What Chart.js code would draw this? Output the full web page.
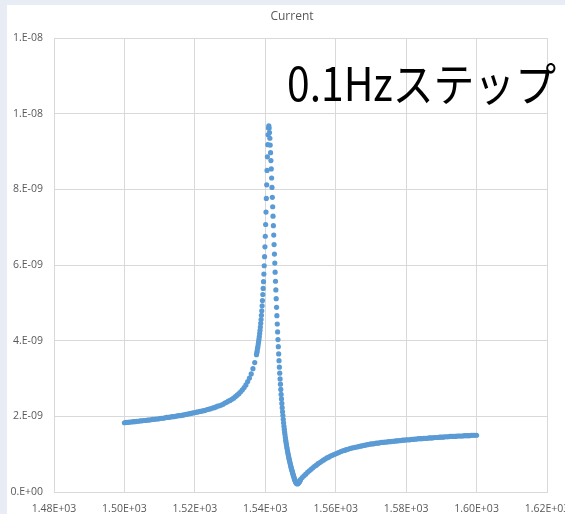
<!DOCTYPE html>
<html lang="ja">
<head>
<meta charset="utf-8">
<title>Current</title>
<script src="https://cdn.jsdelivr.net/npm/chart.js@4.4.1/dist/chart.umd.min.js"></script>
<style>
  html, body { margin: 0; padding: 0; overflow: hidden; background: #e8ecf5; }
  #wrap { position: relative; width: 600px; height: 514px; }
</style>
</head>
<body>
<div id="wrap"><canvas id="currentChart"></canvas></div>
<script>
// frequency sweep, Hz (coarse below the resonance, 0.1 Hz around it, coarse above)
const freqLow = [
  1500, 1500.5, 1501, 1501.5, 1502, 1502.5, 1503, 1503.5, 1504, 1504.5,
  1505, 1505.5, 1506, 1506.5, 1507, 1507.5, 1508, 1508.5, 1509, 1509.5,
  1510, 1510.5, 1511, 1511.5, 1512, 1512.5, 1513, 1513.5, 1514, 1514.5,
  1515, 1515.5, 1516, 1516.5, 1517, 1517.5, 1518, 1518.5, 1519, 1519.5,
  1520, 1520.5, 1521, 1521.5, 1522, 1522.5, 1523, 1523.5, 1524, 1524.5,
  1525, 1525.5, 1526, 1526.5, 1527, 1527.5, 1528, 1528.5, 1529, 1529.5,
  1530, 1530.5, 1531, 1531.5, 1532, 1532.5, 1533, 1533.5, 1534, 1534.5,
  1535, 1535.5, 1536, 1536.5, 1537, 1537.5
];
// current, nA
const currentLow = [
  1.83, 1.84, 1.84, 1.85, 1.85, 1.86, 1.86, 1.87, 1.87, 1.88,
  1.88, 1.89, 1.89, 1.90, 1.90, 1.91, 1.92, 1.92, 1.93, 1.93,
  1.94, 1.95, 1.95, 1.96, 1.97, 1.97, 1.98, 1.99, 1.99, 2.00,
  2.01, 2.02, 2.02, 2.03, 2.04, 2.05, 2.06, 2.07, 2.08, 2.09,
  2.10, 2.11, 2.12, 2.13, 2.14, 2.15, 2.16, 2.18, 2.19, 2.20,
  2.22, 2.23, 2.25, 2.27, 2.28, 2.30, 2.32, 2.35, 2.37, 2.40,
  2.42, 2.45, 2.48, 2.52, 2.56, 2.60, 2.65, 2.70, 2.76, 2.83,
  2.92, 3.01, 3.12, 3.26, 3.42, 3.63
];

const freqPeak = [
  1537.6, 1537.7, 1537.8, 1537.9,
  1538.0, 1538.1, 1538.2, 1538.3, 1538.4, 1538.5, 1538.6, 1538.7, 1538.8, 1538.9,
  1539.0, 1539.1, 1539.2, 1539.3, 1539.4, 1539.5, 1539.6, 1539.7, 1539.8, 1539.9,
  1540.0, 1540.1, 1540.2, 1540.3, 1540.4, 1540.5, 1540.6, 1540.7, 1540.8, 1540.9,
  1541.0, 1541.1, 1541.2, 1541.3, 1541.4, 1541.5, 1541.6, 1541.7, 1541.8, 1541.9,
  1542.0, 1542.1, 1542.2, 1542.3, 1542.4, 1542.5, 1542.6, 1542.7, 1542.8, 1542.9,
  1543.0, 1543.1, 1543.2, 1543.3, 1543.4, 1543.5, 1543.6, 1543.7, 1543.8, 1543.9,
  1544.0, 1544.1, 1544.2, 1544.3, 1544.4, 1544.5, 1544.6, 1544.7, 1544.8, 1544.9,
  1545.0, 1545.1, 1545.2, 1545.3, 1545.4, 1545.5, 1545.6, 1545.7, 1545.8, 1545.9,
  1546.0, 1546.1, 1546.2, 1546.3, 1546.4, 1546.5, 1546.6, 1546.7, 1546.8, 1546.9,
  1547.0, 1547.1, 1547.2, 1547.3, 1547.4, 1547.5, 1547.6, 1547.7, 1547.8, 1547.9,
  1548.0, 1548.1, 1548.2, 1548.3, 1548.4, 1548.5, 1548.6, 1548.7, 1548.8, 1548.9,
  1549.0, 1549.1, 1549.2, 1549.3, 1549.4, 1549.5, 1549.6, 1549.7, 1549.8, 1549.9,
  1550.0
];
const currentPeak = [
  3.68, 3.73, 3.79, 3.84,
  3.91, 3.97, 4.04, 4.11, 4.19, 4.27, 4.36, 4.46, 4.56, 4.67,
  4.79, 4.92, 5.06, 5.22, 5.38, 5.56, 5.76, 5.98, 6.22, 6.48,
  6.76, 7.07, 7.40, 7.76, 8.12, 8.50, 8.86, 9.18, 9.44, 9.62,
  9.68, 9.62, 9.50, 9.35, 9.17, 8.97, 8.76, 8.54, 8.30, 8.05,
  7.79, 7.54, 7.29, 7.04, 6.79, 6.54, 6.29, 6.05, 5.81, 5.57,
  5.34, 5.11, 4.88, 4.66, 4.44, 4.23, 4.03, 3.84, 3.65, 3.47,
  3.30, 3.14, 2.99, 2.85, 2.71, 2.58, 2.46, 2.34, 2.23, 2.12,
  2.02, 1.92, 1.83, 1.74, 1.66, 1.58, 1.51, 1.44, 1.37, 1.31,
  1.25, 1.19, 1.14, 1.09, 1.04, 0.99, 0.95, 0.90, 0.86, 0.82,
  0.78, 0.74, 0.70, 0.66, 0.63, 0.59, 0.56, 0.53, 0.49, 0.46,
  0.43, 0.40, 0.37, 0.34, 0.32, 0.29, 0.27, 0.25, 0.24, 0.23,
  0.22, 0.22, 0.22, 0.23, 0.24, 0.25, 0.26, 0.28, 0.29, 0.31,
  0.33
];

const freqHigh = [
  1550.5, 1551, 1551.5, 1552, 1552.5, 1553, 1553.5, 1554, 1554.5, 1555,
  1555.5, 1556, 1556.5, 1557, 1557.5, 1558, 1558.5, 1559, 1559.5, 1560,
  1560.5, 1561, 1561.5, 1562, 1562.5, 1563, 1563.5, 1564, 1564.5, 1565,
  1565.5, 1566, 1566.5, 1567, 1567.5, 1568, 1568.5, 1569, 1569.5, 1570,
  1570.5, 1571, 1571.5, 1572, 1572.5, 1573, 1573.5, 1574, 1574.5, 1575,
  1575.5, 1576, 1576.5, 1577, 1577.5, 1578, 1578.5, 1579, 1579.5, 1580,
  1580.5, 1581, 1581.5, 1582, 1582.5, 1583, 1583.5, 1584, 1584.5, 1585,
  1585.5, 1586, 1586.5, 1587, 1587.5, 1588, 1588.5, 1589, 1589.5, 1590,
  1590.5, 1591, 1591.5, 1592, 1592.5, 1593, 1593.5, 1594, 1594.5, 1595,
  1595.5, 1596, 1596.5, 1597, 1597.5, 1598, 1598.5, 1599, 1599.5, 1600
];
const currentHigh = [
  0.38, 0.43, 0.47, 0.52, 0.56, 0.60, 0.64, 0.68, 0.71, 0.75,
  0.78, 0.81, 0.84, 0.87, 0.90, 0.92, 0.95, 0.97, 0.99, 1.01,
  1.03, 1.05, 1.07, 1.09, 1.10, 1.12, 1.13, 1.15, 1.16, 1.17,
  1.18, 1.19, 1.20, 1.21, 1.22, 1.23, 1.24, 1.25, 1.26, 1.27,
  1.27, 1.28, 1.29, 1.29, 1.30, 1.31, 1.31, 1.32, 1.32, 1.33,
  1.33, 1.34, 1.34, 1.35, 1.35, 1.36, 1.36, 1.37, 1.37, 1.38,
  1.38, 1.38, 1.39, 1.39, 1.40, 1.40, 1.41, 1.41, 1.41, 1.42,
  1.42, 1.42, 1.43, 1.43, 1.43, 1.44, 1.44, 1.44, 1.45, 1.45,
  1.45, 1.46, 1.46, 1.46, 1.47, 1.47, 1.47, 1.47, 1.48, 1.48,
  1.48, 1.48, 1.49, 1.49, 1.49, 1.49, 1.50, 1.50, 1.50, 1.50
];

// axis ranges and tick steps
const xRange = [1480, 1620, 20];
const yRangeNA = [0, 12, 2];

const chartTitle = 'Current';
const stepNote = '0.1Hzステップ';

// Excel style scientific label: 1.48E+03, 2.E-09
function excelExp(v, digits) {
    const parts = v.toExponential(digits).split('e');
    const exp = parseInt(parts[1], 10);
    const mant = digits === 0 ? parts[0] + '.' : parts[0];
    return mant + 'E' + (exp < 0 ? '-' : '+') + String(Math.abs(exp)).padStart(2, '0');
}

function toPoints(freqs, values) {
    return freqs.map((f, i) => ({ x: f, y: values[i] }));
}

document.addEventListener('DOMContentLoaded', () => {
    const ctx = document.getElementById('currentChart').getContext('2d');

    const points = [].concat(
        toPoints(freqLow, currentLow),
        toPoints(freqPeak, currentPeak),
        toPoints(freqHigh, currentHigh)
    );

    const frame = {
        id: 'frame',
        beforeDraw(chart) {
            const c = chart.ctx;
            c.save();
            c.fillStyle = '#e8ecf5';
            c.fillRect(0, 0, chart.width, chart.height);
            c.fillStyle = '#ffffff';
            c.fillRect(7, 5, chart.width - 7, chart.height - 5);
            c.restore();
        },
        afterDraw(chart) {
            const c = chart.ctx;
            c.save();
            c.fillStyle = '#595959';
            c.font = '12px "Open Sans", sans-serif';
            c.textAlign = 'center';
            c.textBaseline = 'middle';
            c.fillText(chartTitle, 292, 17);

            c.fillStyle = '#000000';
            c.font = '46px "Noto Sans CJK JP", sans-serif';
            c.textAlign = 'left';
            c.textBaseline = 'alphabetic';
            c.fillText(stepNote, 287, 101, 269);
            c.restore();
        }
    };

    new Chart(ctx, {
        type: 'scatter',
        data: {
            datasets: [{
                label: chartTitle,
                data: points,
                pointRadius: 2.6,
                pointBorderWidth: 0,
                pointBackgroundColor: '#5b9bd5',
                pointBorderColor: '#5b9bd5'
            }]
        },
        options: {
            responsive: true,
            maintainAspectRatio: false,
            animation: false,
            events: [],
            layout: {
                autoPadding: false,
                padding: { left: 0, top: 38, right: 53, bottom: 0 }
            },
            scales: {
                x: {
                    type: 'linear',
                    min: xRange[0],
                    max: xRange[1],
                    afterFit: scale => { scale.height = 22; },
                    grid: { color: '#d9d9d9', drawTicks: false },
                    border: { color: '#d9d9d9' },
                    ticks: {
                        stepSize: xRange[2],
                        padding: 11,
                        maxRotation: 0,
                        color: '#595959',
                        font: { family: '"Open Sans", sans-serif', size: 10.5 },
                        callback: v => excelExp(v, 2)
                    }
                },
                y: {
                    min: yRangeNA[0],
                    max: yRangeNA[1],
                    afterFit: scale => { scale.width = 54; },
                    grid: { color: '#d9d9d9', drawTicks: false },
                    border: { color: '#d9d9d9' },
                    ticks: {
                        stepSize: yRangeNA[2],
                        padding: 11,
                        color: '#595959',
                        font: { family: '"Open Sans", sans-serif', size: 10.5 },
                        callback: v => excelExp(v * 1e-9, 0)
                    }
                }
            },
            plugins: {
                legend: { display: false },
                tooltip: { enabled: false }
            }
        },
        plugins: [frame]
    });
});
</script>
</body>
</html>
